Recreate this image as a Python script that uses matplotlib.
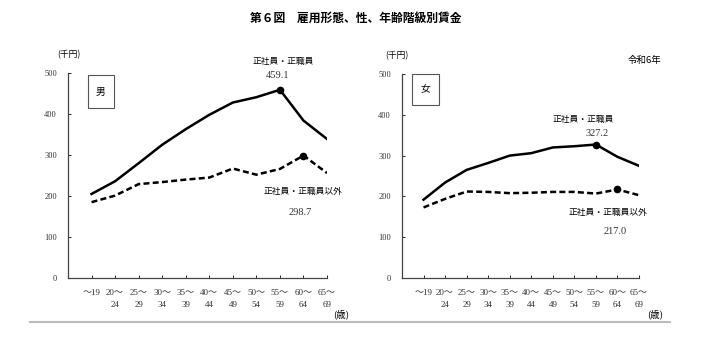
import matplotlib
matplotlib.use("Agg")
import matplotlib.pyplot as plt
from matplotlib.patches import Rectangle
from matplotlib.lines import Line2D

plt.rcParams['font.family'] = ['Liberation Serif', 'Noto Sans CJK JP', 'DejaVu Sans']
jp = ['Noto Sans CJK JP', 'DejaVu Sans']

age_labels = ["～19\n ", "20～\n24", "25～\n29", "30～\n34", "35～\n39", "40～\n44",
              "45～\n49", "50～\n54", "55～\n59", "60～\n64", "65～\n69"]

# 男
male_regular = [205, 236, 280, 325, 363, 398, 428, 441, 459.1, 384, 339]
male_other = [185, 201, 229, 234, 240, 245, 267, 252, 266, 298.7, 256]
# 女
female_regular = [192, 234, 265, 282, 300, 306, 320, 323, 327.2, 297, 275]
female_other = [173, 194, 212, 211, 208, 209, 211, 211, 207, 217.0, 203]

label_reg = "正社員・正職員"
label_oth = "正社員・正職員以外"

fig = plt.figure(figsize=(7.12, 3.46), dpi=100)
fig.patch.set_facecolor("white")

fig.text(0.5, 0.948, "第６図　雇用形態、性、年齢階級別賃金", ha="center", va="center",
         fontsize=8.5, fontweight="bold", family=jp)

ax1 = fig.add_axes([0.0955, 0.1965, 0.3638, 0.5925])
ax2 = fig.add_axes([0.5646, 0.1965, 0.3329, 0.5896])


def draw_panel(ax, reg, oth, sex, box, reg_off, oth_off):
    x = list(range(len(age_labels)))
    ax.plot(x, reg, color="black", lw=1.8, solid_joinstyle="round")
    ax.plot(x, oth, color="black", lw=1.8, linestyle=(0, (2.4, 1.3)))
    ax.plot(8, reg[8], "o", color="black", ms=4.5)
    ax.plot(9, oth[9], "o", color="black", ms=4.5)

    ax.set_xlim(-1, 10)
    ax.set_ylim(0, 500)
    ax.set_yticks(range(0, 501, 100))
    ax.set_xticks(x)
    ax.set_xticklabels(age_labels, fontsize=6.5, linespacing=1.7, color="#333333")
    ax.tick_params(axis="x", direction="in", length=2.5, width=0.6, pad=8)
    ax.tick_params(axis="y", direction="in", length=2.5, width=0.6, labelsize=6,
                   labelcolor="#333333", pad=8)
    for s in ["top", "right"]:
        ax.spines[s].set_visible(False)
    for s in ["left", "bottom"]:
        ax.spines[s].set_linewidth(0.9)
        ax.spines[s].set_color("#444444")

    ax.add_patch(Rectangle(box[:2], box[2], box[3], transform=ax.transAxes,
                           fill=False, edgecolor="#555555", lw=0.8, clip_on=False))
    ax.text(box[0] + box[2] / 2, box[1] + box[3] / 2, sex, transform=ax.transAxes,
            ha="center", va="center", fontsize=7, family=jp)

    kw = dict(textcoords="offset pixels", ha="center", va="center")
    ax.annotate(label_reg, (8, reg[8]), xytext=reg_off[0], family=jp, fontsize=6.3, **kw)
    ax.annotate(f"{reg[8]:.1f}", (8, reg[8]), xytext=reg_off[1], fontsize=7.5,
                color="#333333", **kw)
    ax.annotate(label_oth, (9, oth[9]), xytext=oth_off[0], family=jp, fontsize=6.3, **kw)
    ax.annotate(f"{oth[9]:.1f}", (9, oth[9]), xytext=oth_off[1], fontsize=7.5,
                color="#333333", **kw)


draw_panel(ax1, male_regular, male_other, "男", (0.077, 0.829, 0.100, 0.161),
           [(3, 28), (-2, 14)], [(-1, -36), (-3, -57)])
draw_panel(ax2, female_regular, female_other, "女", (0.042, 0.849, 0.114, 0.151),
           [(-13, 25), (1, 11)], [(-10, -23), (-2, -42)])

ax1.text(0.004, 1.09, "(千円)", transform=ax1.transAxes, ha="center", va="center",
         fontsize=6.3, family=jp)
ax2.text(-0.02, 1.09, "(千円)", transform=ax2.transAxes, ha="center", va="center",
         fontsize=6.3, family=jp)
ax1.text(1.055, -0.175, "(歳)", transform=ax1.transAxes, ha="center", va="center",
         fontsize=6.8, family=jp)
ax2.text(1.068, -0.18, "(歳)", transform=ax2.transAxes, ha="center", va="center",
         fontsize=6.8, family=jp)
ax2.text(1.025, 1.068, "令和6年", transform=ax2.transAxes, ha="center", va="center",
         fontsize=6.8, family=jp)

fig.add_artist(Line2D([30 / 712, 670 / 712], [0.069, 0.069], color="#bbbbbb", lw=1.5))

fig.savefig("out.png", dpi=100)
